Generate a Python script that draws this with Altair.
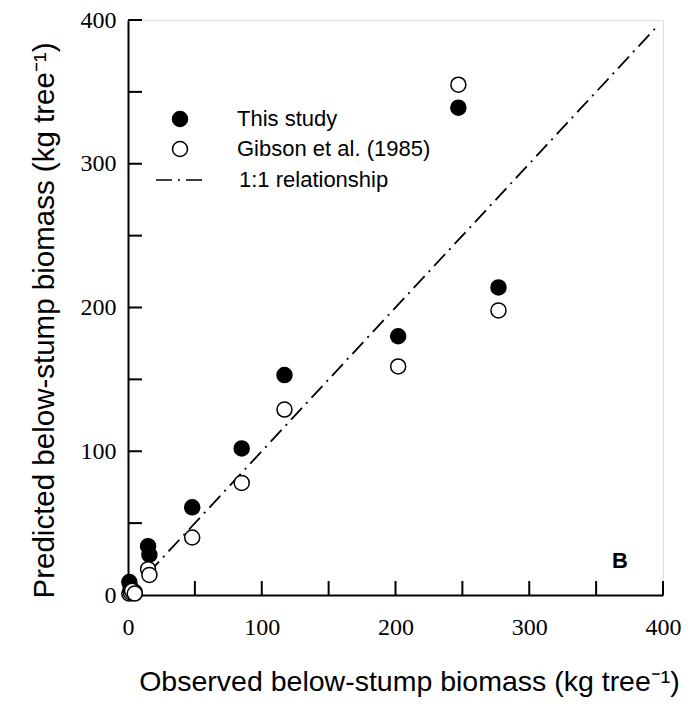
import altair as alt
import pandas as pd

# Observed below-stump biomass (kg tree-1)
observed = [1, 2, 3, 5, 15, 16, 48, 85, 117, 202, 247, 277]
# Predicted, this study
pred_this_study = [9, 5, 3, 2, 34, 28, 61, 102, 153, 180, 339, 214]
# Predicted, Gibson et al. (1985)
pred_gibson = [1, 2, 3, 1, 18, 14, 40, 78, 129, 159, 355, 198]
# 1:1 line ends
line_x = [15, 395]

point_series = ["This study", "Gibson et al. (1985)"]
line_series = ["1:1 relationship"]
axis_ticks = [0, 50, 100, 150, 200, 250, 300, 350, 400]

W, H = 535, 575
TICK = 14

pts = pd.DataFrame(
    {
        "obs": observed + observed,
        "pred": pred_this_study + pred_gibson,
        "series": [point_series[0]] * len(observed) + [point_series[1]] * len(observed),
    }
)
line_df = pd.DataFrame({"obs": line_x, "pred": line_x, "line": line_series * 2})
ticks_df = pd.DataFrame({"v": axis_ticks})

legend_common = dict(
    title=None,
    orient="none",
    labelFont="Liberation Sans",
    labelFontSize=22,
    labelColor="black",
    labelLimit=400,
    symbolStrokeColor="black",
    symbolStrokeWidth=1.5,
    symbolOpacity=1,
)
point_legend = alt.Legend(legendX=41, legendY=88, labelOffset=46, rowPadding=8, symbolSize=225, **legend_common)
line_legend = alt.Legend(legendX=27, legendY=134, labelOffset=32, symbolSize=2500, **legend_common)

xscale = alt.Scale(domain=[0, 400], nice=False, zero=False)
yscale = alt.Scale(domain=[0, 400], nice=False, zero=False)

label_expr = "datum.value % 100 === 0 ? datum.label : ''"

x_axis = alt.Axis(
    title="Observed below-stump biomass (kg tree⁻¹)",
    values=axis_ticks,
    labelExpr=label_expr,
    grid=False,
    ticks=False,
    domainColor="black",
    domainWidth=2,
    labelFont="Liberation Serif",
    labelFontSize=24,
    labelColor="black",
    labelPadding=20,
    labelFlush=False,
    titleFont="Liberation Sans",
    titleFontSize=28.5,
    titleFontWeight="normal",
    titleColor="black",
    titleX=281,
    titleY=86,
    titleBaseline="middle",
)
y_axis = alt.Axis(
    title="Predicted below-stump biomass (kg tree⁻¹)",
    values=axis_ticks,
    labelExpr=label_expr,
    grid=False,
    ticks=False,
    domainColor="black",
    domainWidth=2,
    labelFont="Liberation Serif",
    labelFontSize=24,
    labelColor="black",
    labelPadding=12,
    labelFlush=False,
    titleFont="Liberation Sans",
    titleFontSize=29.5,
    titleFontWeight="normal",
    titleColor="black",
    titleX=-84,
    titleY=300,
    titleBaseline="middle",
    titleAngle=270,
)

points = (
    alt.Chart(pts)
    .mark_point(strokeWidth=1.5, opacity=1, size=225, shape="circle")
    .encode(
        x=alt.X("obs:Q", scale=xscale, axis=x_axis),
        y=alt.Y("pred:Q", scale=yscale, axis=y_axis),
        fill=alt.Fill(
            "series:N",
            scale=alt.Scale(domain=point_series, range=["black", "white"]),
            legend=point_legend,
        ),
        stroke=alt.Stroke(
            "series:N",
            scale=alt.Scale(domain=point_series, range=["black", "black"]),
            legend=point_legend,
        ),
    )
)

line = (
    alt.Chart(line_df)
    .mark_line(strokeWidth=1.8, color="black")
    .encode(
        x=alt.X("obs:Q", scale=xscale, axis=x_axis),
        y=alt.Y("pred:Q", scale=yscale, axis=y_axis),
        strokeDash=alt.StrokeDash(
            "line:N",
            scale=alt.Scale(domain=line_series, range=[[16, 6, 2, 6]]),
            legend=line_legend,
        ),
    )
)

# inward ticks along the bottom and left axes
bottom_ticks = (
    alt.Chart(ticks_df)
    .mark_rule(color="black", strokeWidth=2)
    .encode(x=alt.X("v:Q", scale=xscale, axis=x_axis), y=alt.value(H), y2=alt.value(H - TICK))
)
left_ticks = (
    alt.Chart(ticks_df)
    .mark_rule(color="black", strokeWidth=2)
    .encode(y=alt.Y("v:Q", scale=yscale, axis=y_axis), x=alt.value(0), x2=alt.value(TICK))
)

panel = (
    alt.Chart(pd.DataFrame({"t": ["B"]}))
    .mark_text(font="Liberation Sans", fontSize=22, fontWeight="bold", color="black", align="center", baseline="middle")
    .encode(text="t:N", x=alt.value(492), y=alt.value(541))
)

chart = (
    alt.layer(bottom_ticks, left_ticks, line, points, panel)
    .properties(
        width=W,
        height=H,
        autosize=alt.AutoSizeParams(type="none"),
        padding={"left": 120, "top": 12, "right": 22, "bottom": 106},
    )
    .resolve_scale(fill="independent", stroke="independent")
    .configure_view(stroke="black", strokeWidth=2)
    .configure(background="white")
)

chart.save("out.html", embed_options={"renderer": "svg", "actions": False})
